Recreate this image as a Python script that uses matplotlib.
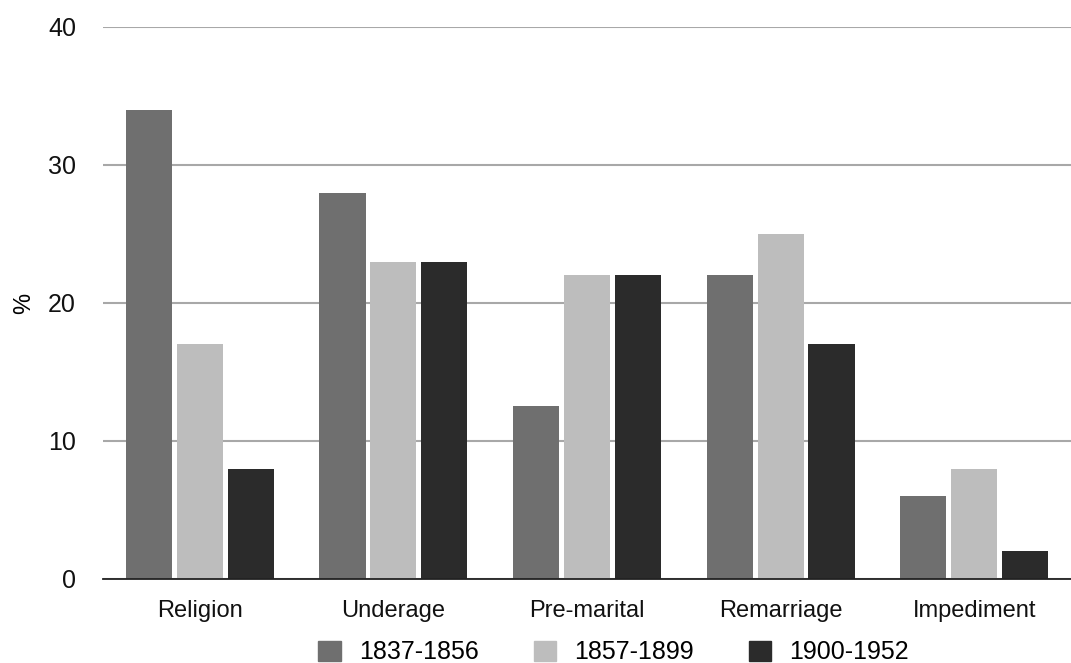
import numpy as np
import matplotlib.pyplot as plt
from matplotlib import rcParams
from matplotlib.patches import Patch

rcParams["font.family"] = ["Liberation Sans", "DejaVu Sans"]

categories = ['Religion', 'Underage', 'Pre-marital', 'Remarriage', 'Impediment']
periods = ['1837-1856', '1857-1899', '1900-1952']
p1 = [34, 28, 12.5, 22, 6]
p2 = [17, 23, 22, 25, 8]
p3 = [8, 23, 22, 17, 2]
colors = ['#6f6f6f', '#bdbdbd', '#2b2b2b']

fig = plt.figure(figsize=(10.71, 6.63), dpi=100)
ax = fig.add_axes([0.0962, 0.1267, 0.9038, 0.8326])

x = np.arange(len(categories))
w = 0.238
step = 0.263
for i, (vals, c) in enumerate(zip([p1, p2, p3], colors)):
    ax.bar(x + (i - 1) * step, vals, width=w, color=c, zorder=3)

ax.set_xlim(-0.5, len(categories) - 0.5)
ax.set_ylim(0, 40)
ax.set_yticks([0, 10, 20, 30, 40])
ax.grid(axis='y', color='#a8a8a8', linewidth=1.5, zorder=0)
for s in ['top', 'right', 'left']:
    ax.spines[s].set_visible(False)
ax.spines['bottom'].set_color('#222222')
ax.spines['bottom'].set_linewidth(1.3)
ax.spines['bottom'].set_zorder(4)
ax.tick_params(axis='y', length=0, labelsize=18, colors='#111111', pad=19.5)
ax.tick_params(axis='x', length=0, labelsize=17, colors='#111111', pad=15)
ax.set_xticks(x)
ax.set_xticklabels(categories)
ax.set_ylabel('%', fontsize=17, va='center')
ax.yaxis.set_label_coords(-0.082, 0.5)

handles = [Patch(color=c, label=p) for c, p in zip(colors, periods)]
fig.legend(handles=handles, loc='lower center', bbox_to_anchor=(0.573, -0.036), ncol=3,
           frameon=False, fontsize=18, handlelength=0.9, handleheight=0.85,
           columnspacing=2.2, handletextpad=0.72)

plt.savefig('out.png', dpi=100)
